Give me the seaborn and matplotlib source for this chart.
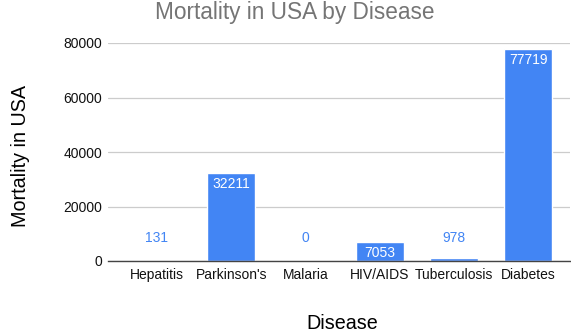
import matplotlib
matplotlib.use("Agg")
import matplotlib.pyplot as plt
import seaborn as sns
import pandas as pd

diseases = ["Hepatitis", "Parkinson's", "Malaria", "HIV/AIDS", "Tuberculosis", "Diabetes"]
deaths = [131, 32211, 0, 7053, 978, 77719]
y_ticks = [0, 20000, 40000, 60000, 80000]

sns.set_theme(style="white")
plt.rcParams["font.family"] = ["Liberation Sans", "DejaVu Sans"]

df = pd.DataFrame({"Disease": diseases, "Mortality in USA": deaths})

W, H = 571, 334
fig = plt.figure(figsize=(W / 100, H / 100), dpi=100)
ax = fig.add_axes([108 / W, 1 - 261 / H, (570 - 108) / W, (261 - 43) / H])

bar_color = "#4285F4"
sns.barplot(data=df, x="Disease", y="Mortality in USA", color=bar_color,
            width=0.647, saturation=1, ax=ax, zorder=3)

ax.set_ylim(0, 80000)
ax.set_xlim(-0.66, 5.566)
ax.set_yticks(y_ticks)
ax.set_yticklabels([str(t) for t in y_ticks], fontsize=10, color="#111111")
ax.tick_params(axis="x", labelsize=10, colors="#111111", length=0, pad=5)
ax.tick_params(axis="y", length=0, pad=4.3)
ax.grid(axis="y", color="#cccccc", linewidth=0.9, zorder=0)
for s in ["top", "right", "left"]:
    ax.spines[s].set_visible(False)
ax.spines["bottom"].set_color("#444444")
ax.spines["bottom"].set_linewidth(1.0)
ax.spines["bottom"].set_zorder(4)

# value labels: inside tall bars, above short ones
for i, v in enumerate(deaths):
    if v > 5000:
        ax.annotate(str(v), (i, v), xytext=(0, -8), textcoords="offset points",
                    ha="center", va="center", color="white", fontsize=10, zorder=5)
    else:
        ax.annotate(str(v), (i, 0), xytext=(0, 16.5), textcoords="offset points",
                    ha="center", va="center", color=bar_color, fontsize=10, zorder=5)

ax.set_xlabel("")
ax.set_ylabel("")
fig.text(342 / W, 1 - 329 / H, "Disease", ha="center", va="baseline",
         fontsize=14.2, color="black")
fig.text(21 / W, 1 - 156 / H, "Mortality in USA", ha="center", va="center",
         rotation=90, fontsize=14.2, color="black")
fig.text(295 / W, 1 - 18.5 / H, "Mortality in USA by Disease", ha="center",
         va="baseline", fontsize=16.3, color="#757575")

fig.savefig("out.png", dpi=100)
